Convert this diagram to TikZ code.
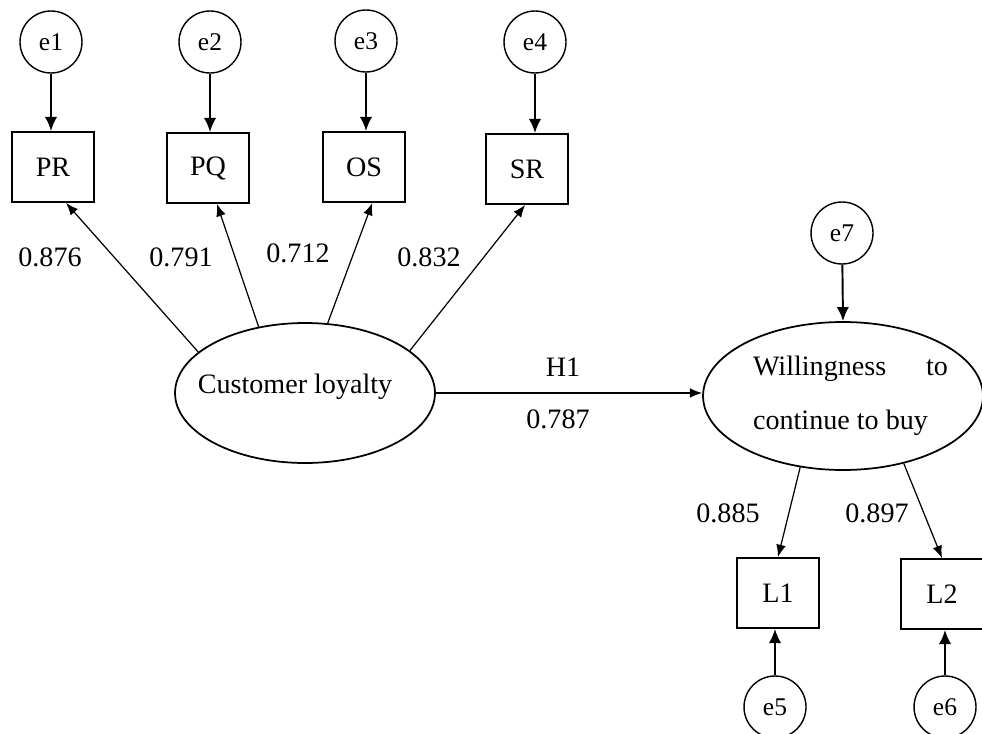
\documentclass[tikz,border=0pt]{standalone}
\usepackage{fontspec}
\setmainfont{Liberation Serif}
\usetikzlibrary{shapes,arrows.meta}

\begin{document}
\begin{tikzpicture}[x=0.02cm,y=-0.02cm,
  every node/.style={font=\fontsize{16}{18}\selectfont},
  err/.style={circle,draw,line width=0.8pt,minimum size=1.24cm,inner sep=0pt,font=\fontsize{14.5}{16}\selectfont},
  item/.style={rectangle,draw,line width=1.1pt,minimum width=1.64cm,minimum height=1.4cm},
  latent/.style={ellipse,draw,line width=1pt,inner sep=0pt},
  errarrow/.style={-{Latex[length=8pt,width=7pt]},line width=1.1pt},
  loadarrow/.style={-{Latex[length=7pt,width=5.5pt]},line width=0.7pt}]
  \useasboundingbox (0,0) rectangle (982,733);
  % error terms of the indicators
  \node[err] (e1) at (51,42) {e1};
  \node[err] (e2) at (210,42) {e2};
  \node[err] (e3) at (366,41) {e3};
  \node[err] (e4) at (535,42) {e4};
  % observed indicators
  \node[item] (pr) at (53,167) {PR};
  \node[item] (pq) at (208,168) {PQ};
  \node[item] (os) at (364,167) {OS};
  \node[item] (sr) at (527,169) {SR};
  \draw[errarrow] (e1) -- (e1 |- pr.north);
  \draw[errarrow] (e2) -- (e2 |- pq.north);
  \draw[errarrow] (e3) -- (e3 |- os.north);
  \draw[errarrow] (e4) -- (e4 |- sr.north);
  % latent variables
  \node[latent,minimum width=5.2cm,minimum height=2.8cm] (cl) at (305,393)
    {\makebox[0pt]{\smash{Customer loyalty}\hspace*{0.4cm}}};
  \node[latent,minimum width=5.6cm,minimum height=2.96cm] (wtb) at (843,396)
    {\makebox[0pt]{\hspace*{0.3cm}\smash{\raisebox{0.42cm}{\parbox[t]{3.9cm}{%
      \makebox[3.9cm][l]{Willingness\hfill to}\\[13pt]continue to buy}}}}};
  \node[err] (e7) at (842,233) {e7};
  \draw[errarrow] (e7) -- (wtb.north);
  % loadings
  \draw[loadarrow] (cl.159) -- (pr.-70);
  \draw[loadarrow] (cl.125) -- (pq.-76);
  \draw[loadarrow] (cl.72) -- (os.-77);
  \draw[loadarrow] (cl.22) -- (sr.-93);
  \node (w1) at (50,257) {0.876};
  \node (w2) at (181,257) {0.791};
  \node (w3) at (298,253) {0.712};
  \node (w4) at (429,257) {0.832};
  % structural path
  \draw[loadarrow] (cl.east) -- (cl.east -| wtb.west);
  \node (h1) at (563,367) {H1};
  \node (b1) at (558,419) {0.787};
  % indicators of the second construct
  \node[item] (l1) at (778,593) {L1};
  \node[item] (l2) at (942,594) {L2};
  \node[err] (e5) at (775,707) {e5};
  \node[err] (e6) at (945,707) {e6};
  \draw[loadarrow] (wtb.-121) -- (l1.north);
  \draw[loadarrow] (wtb.-48) -- (l2.north);
  \draw[errarrow] (e5) -- (e5 |- l1.south);
  \draw[errarrow] (e6) -- (e6 |- l2.south);
  \node (w5) at (728,513) {0.885};
  \node (w6) at (877,513) {0.897};
\end{tikzpicture}
\end{document}
